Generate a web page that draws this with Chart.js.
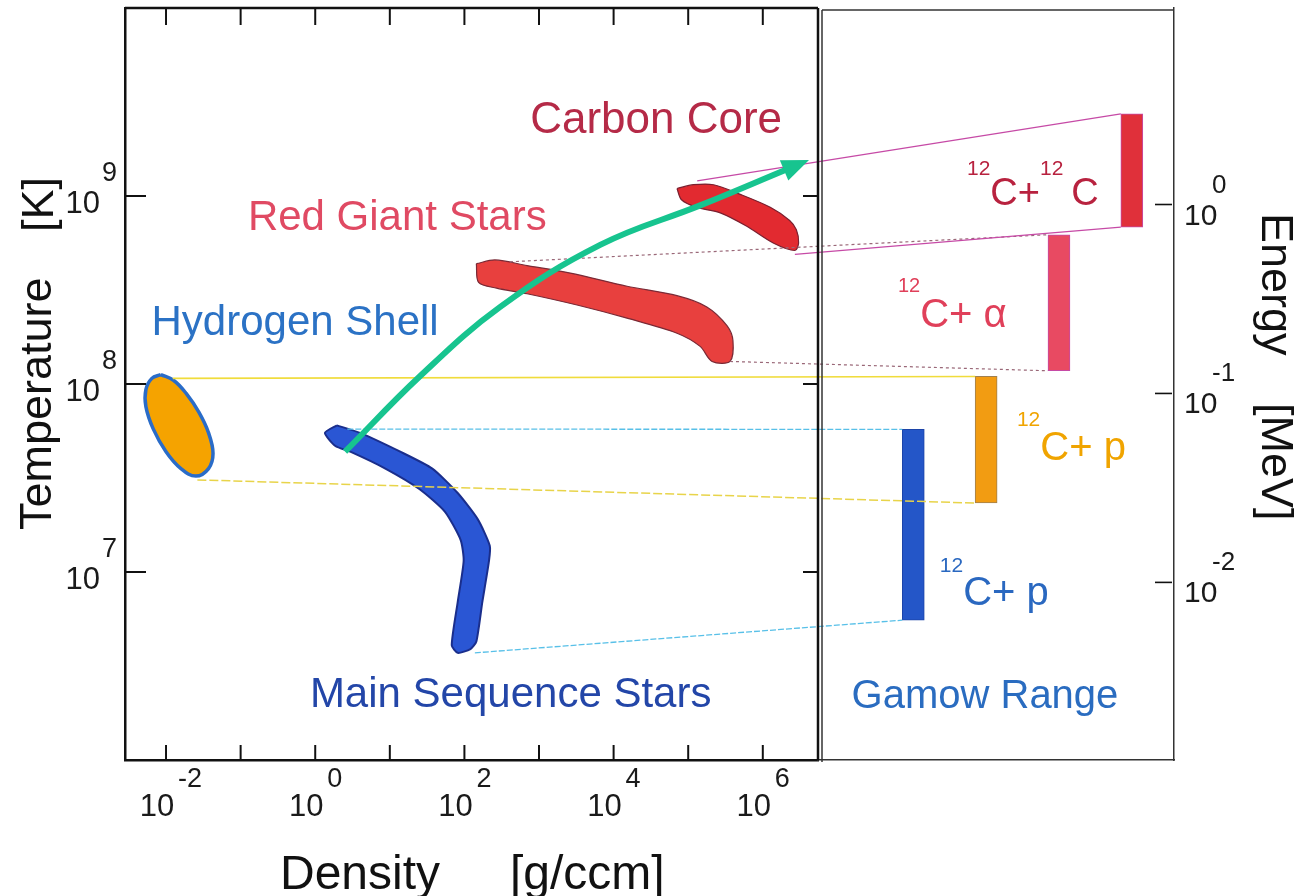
<!DOCTYPE html>
<html><head><meta charset="utf-8">
<script src="https://cdn.jsdelivr.net/npm/chart.js@4/dist/chart.umd.min.js"></script>
<style>html,body{margin:0;padding:0;background:#fff;}canvas{display:block;}</style>
</head><body>
<canvas id="c" width="1306" height="896"></canvas>
<script>
// ---------- tick labels (exponents of ten) ----------
const densityTickMarks = [-2, -1, 0, 1, 2, 3, 4, 5, 6];
const densityTickLabels = [-2, 0, 2, 4, 6];
const temperatureTickLabels = [7, 8, 9];
const energyTickLabels = [0, -1, -2];

// ---------- stellar regions: log10 density [g/ccm], log10 temperature [K] ----------
const mainSeqRho = [0.29, 0.60, 1.14, 1.57, 1.91, 2.18, 2.34, 2.33, 2.24, 2.16, 2.08, 1.91, 1.83, 1.91, 1.99, 1.95, 1.74, 1.40, 0.94, 0.47, 0.27, 0.13, 0.29];
const mainSeqT   = [7.78, 7.74, 7.64, 7.55, 7.42, 7.28, 7.14, 7.06, 6.84, 6.63, 6.59, 6.57, 6.61, 6.84, 7.06, 7.17, 7.32, 7.44, 7.55, 7.64, 7.67, 7.74, 7.78];

const hShellRho = [-2.07, -1.90, -1.73, -1.56, -1.43, -1.37, -1.43, -1.60, -1.80, -2.00, -2.17, -2.27, -2.27, -2.19, -2.07];
const hShellT   = [8.05, 8.02, 7.95, 7.85, 7.74, 7.63, 7.55, 7.51, 7.55, 7.64, 7.76, 7.88, 7.97, 8.03, 8.05];

const redGiantRho = [2.16, 2.41, 2.84, 3.42, 4.18, 4.85, 5.25, 5.52, 5.60, 5.56, 5.32, 5.16, 4.85, 4.18, 3.51, 2.84, 2.43, 2.19, 2.16];
const redGiantT   = [8.64, 8.66, 8.63, 8.59, 8.52, 8.47, 8.41, 8.31, 8.23, 8.12, 8.12, 8.20, 8.27, 8.35, 8.42, 8.48, 8.51, 8.54, 8.64];

const carbonRho = [4.85, 5.07, 5.34, 5.69, 6.10, 6.36, 6.45, 6.48, 6.43, 6.14, 5.78, 5.43, 5.11, 4.91, 4.85];
const carbonT   = [9.04, 9.06, 9.06, 9.01, 8.94, 8.87, 8.82, 8.75, 8.71, 8.75, 8.84, 8.91, 8.94, 8.98, 9.04];

// evolution arrow
const arrowRho = [0.40, 1.40, 2.48, 3.82, 5.16, 6.31];
const arrowT   = [7.64, 8.04, 8.41, 8.74, 8.95, 9.14];

// ---------- Gamow ranges: log10 energy [MeV] ----------
const reactions = ['12C+p', '12C+p', '12C+α', '12C+12C'];
const gamowIndex = [0, 1, 2, 3];
const gamowLow  = [-2.20, -1.58, -0.88, -0.12];
const gamowHigh = [-1.19, -0.91, -0.16, 0.48];

// connectors: region edge (log rho, log T) -> Gamow bar end
const connRho = [-1.91, -1.58, 0.43, 2.14, 2.61, 5.56, 5.12, 6.43];
const connT   = [8.03, 7.49, 7.76, 6.57, 8.65, 8.12, 9.08, 8.69];
const connBar = [1, 1, 0, 0, 2, 2, 3, 3];
const connEnd = ['high', 'low', 'high', 'low', 'high', 'low', 'high', 'low'];

// ---------- styles ----------
const FONT = "'Liberation Sans', Arial, Helvetica, sans-serif";
const connStyle = [
  {c: '#f0dc3c', w: 1.6, d: []}, {c: '#e8d44a', w: 1.5, d: [9, 3]},
  {c: '#58c0e8', w: 1.3, d: [6, 2]}, {c: '#58c0e8', w: 1.3, d: [6, 2]},
  {c: '#9a6878', w: 1.2, d: [3, 3]}, {c: '#9a6878', w: 1.2, d: [3, 3]},
  {c: '#c64aa6', w: 1.3, d: []}, {c: '#c64aa6', w: 1.3, d: []}
];
const barColors = ['#2456c8', '#f29c12', '#e84a62', '#e0303a'];
const barBorders = ['#1c44a8', '#a08050', '#c64aa6', '#c64aa6'];

const pts = (xs, ys) => xs.map((x, i) => ({x: x, y: ys[i]}));

const regionLabels = [
  {text: 'Carbon Core', rho: 4.57, T: 9.335, color: '#b52a47', size: 44},
  {text: 'Red Giant Stars', rho: 1.10, T: 8.82, color: '#e04a63', size: 42},
  {text: 'Hydrogen Shell', rho: -0.27, T: 8.26, color: '#2b72c5', size: 42},
  {text: 'Main Sequence Stars', rho: 2.62, T: 6.28, color: '#2346a8', size: 42}
];
const reactionLabels = [
  {parts: [['12', 1], ['C+ p', 0]], g: 0.516, E: -2.12, color: '#2a68c0', size: 40, sup: 21, rise: 33},
  {parts: [['12', 1], ['C+ p', 0]], g: 1.574, E: -1.352, color: '#f0a400', size: 40, sup: 21, rise: 34},
  {parts: [['12', 1], ['C+ α', 0]], g: -0.06, E: -0.648, color: '#e0405a', size: 40, sup: 20, rise: 35},
  {parts: [['12', 1], ['C+', 0], ['12', 1, 8], ['C', 0]], g: 0.888, E: -0.003, color: '#b8223f', size: 38, sup: 21, rise: 30}
];

function line(ctx, x1, y1, x2, y2) { ctx.beginPath(); ctx.moveTo(x1, y1); ctx.lineTo(x2, y2); ctx.stroke(); }

const overlay = {
  id: 'overlay',
  afterDatasetDraw(chart, args) {
    if (args.index !== 1) return;
    const ctx = chart.ctx;
    const {xD, yT, yE} = chart.scales;
    const bars = chart.getDatasetMeta(1).data;
    ctx.save();
    connRho.forEach((r, i) => {
      const b = bars[connBar[i]];
      const x2 = b.x - b.width / 2;
      const e = connEnd[i] === 'high' ? gamowHigh[connBar[i]] : gamowLow[connBar[i]];
      const s = connStyle[i];
      ctx.strokeStyle = s.c; ctx.lineWidth = s.w; ctx.setLineDash(s.d);
      line(ctx, xD.getPixelForValue(r), yT.getPixelForValue(connT[i]), x2, yE.getPixelForValue(e));
    });
    ctx.restore();
  },
  afterDatasetsDraw(chart) {
    const ctx = chart.ctx;
    const p = chart.getDatasetMeta(0).data;
    const last = p[p.length - 1];
    let fx = last.cp1x, fy = last.cp1y;
    if (fx === undefined || Math.hypot(last.x - fx, last.y - fy) < 1) { fx = p[p.length - 2].x; fy = p[p.length - 2].y; }
    let dx = last.x - fx, dy = last.y - fy; const L = Math.hypot(dx, dy); dx /= L; dy /= L;
    const len = 25, hw = 11;
    ctx.save();
    ctx.fillStyle = '#17c48f';
    ctx.beginPath();
    ctx.moveTo(last.x + dx * len, last.y + dy * len);
    ctx.lineTo(last.x - dx * 2 - dy * hw, last.y - dy * 2 + dx * hw);
    ctx.lineTo(last.x - dx * 2 + dy * hw, last.y - dy * 2 - dx * hw);
    ctx.closePath(); ctx.fill();
    ctx.restore();
  },
  afterDraw(chart) {
    const ctx = chart.ctx;
    const ca = chart.chartArea;
    const {xD, xG, yT, yE} = chart.scales;
    ctx.save();
    // frames not drawn by the scale borders
    ctx.strokeStyle = '#111'; ctx.lineWidth = 2.5;
    line(ctx, xD.left, ca.top, xD.right, ca.top);
    line(ctx, xD.right, ca.top, xD.right, ca.bottom);
    ctx.strokeStyle = '#333'; ctx.lineWidth = 1.5;
    line(ctx, xG.left + 4, ca.top + 2, xG.right, ca.top + 2);
    line(ctx, xG.left + 4, ca.top + 2, xG.left + 4, ca.bottom + 2);
    // inward tick marks
    ctx.strokeStyle = '#111'; ctx.lineWidth = 2;
    densityTickMarks.forEach(v => {
      const x = xD.getPixelForValue(v);
      line(ctx, x, ca.bottom, x, ca.bottom - 15);
      line(ctx, x, ca.top, x, ca.top + 17);
    });
    temperatureTickLabels.forEach(v => {
      const y = yT.getPixelForValue(v);
      line(ctx, xD.left, y, xD.left + 21, y);
      line(ctx, xD.right, y, xD.right - 15, y);
    });
    ctx.lineWidth = 1.6;
    energyTickLabels.forEach(v => {
      const y = yE.getPixelForValue(v);
      line(ctx, ca.right - 2, y, ca.right - 19, y);
    });
    // tick labels
    ctx.fillStyle = '#1a1a1a'; ctx.textBaseline = 'alphabetic';
    densityTickLabels.forEach(v => {
      const x = xD.getPixelForValue(v);
      ctx.font = '31px ' + FONT; ctx.textAlign = 'center'; ctx.fillText('10', x - 9, 816);
      ctx.font = '27px ' + FONT; ctx.textAlign = 'left'; ctx.fillText(String(v), x + 12, 787);
    });
    temperatureTickLabels.forEach(v => {
      const y = yT.getPixelForValue(v);
      ctx.font = '31px ' + FONT; ctx.textAlign = 'right'; ctx.fillText('10', 100, y + 17);
      ctx.font = '27px ' + FONT; ctx.textAlign = 'left'; ctx.fillText(String(v), 102, y - 15);
    });
    energyTickLabels.forEach(v => {
      const y = yE.getPixelForValue(v);
      ctx.font = '30px ' + FONT; ctx.textAlign = 'left'; ctx.fillText('10', 1184, y + 20);
      ctx.font = '26px ' + FONT; ctx.fillText(String(v), 1212, y - 12);
    });
    // axis titles
    ctx.fillStyle = '#111'; ctx.textAlign = 'left';
    ctx.font = '48px ' + FONT;
    ctx.fillText('Density', 280, 889);
    ctx.fillText('[g/ccm]', 510, 889);
    ctx.font = '45px ' + FONT;
    ctx.save(); ctx.translate(51, 530); ctx.rotate(-Math.PI / 2); ctx.fillText('Temperature', 0, 0); ctx.restore();
    ctx.save(); ctx.translate(53, 232); ctx.rotate(-Math.PI / 2); ctx.fillText('[K]', 0, 0); ctx.restore();
    ctx.save(); ctx.translate(1262, 213); ctx.rotate(Math.PI / 2); ctx.fillText('Energy', 0, 0); ctx.restore();
    ctx.save(); ctx.translate(1262, 403); ctx.rotate(Math.PI / 2); ctx.fillText('[MeV]', 0, 0); ctx.restore();
    // region labels
    ctx.textAlign = 'center';
    regionLabels.forEach(l => {
      ctx.fillStyle = l.color; ctx.font = l.size + 'px ' + FONT;
      ctx.fillText(l.text, xD.getPixelForValue(l.rho), yT.getPixelForValue(l.T));
    });
    ctx.fillStyle = '#2a6cc0'; ctx.font = '40px ' + FONT;
    ctx.fillText('Gamow Range', xG.getPixelForValue(1.135), yE.getPixelForValue(-2.665));
    // reaction labels
    ctx.textAlign = 'left';
    reactionLabels.forEach(l => {
      let x = xG.getPixelForValue(l.g); const y = yE.getPixelForValue(l.E);
      ctx.fillStyle = l.color;
      l.parts.forEach(pt => {
        ctx.font = (pt[1] ? l.sup : l.size) + 'px ' + FONT;
        ctx.fillText(pt[0], x, pt[1] ? y - l.rise : y);
        x += ctx.measureText(pt[0]).width + (pt[2] || 0);
      });
    });
    ctx.restore();
  }
};

const axisBase = (extra) => Object.assign({
  display: true,
  ticks: {display: false},
  grid: {display: true, drawOnChartArea: false, drawTicks: false},
  title: {display: false}
}, extra);

new Chart(document.getElementById('c'), {
  type: 'line',
  data: {
    datasets: [
      {type: 'line', label: 'Evolution', data: pts(arrowRho, arrowT), xAxisID: 'xD', yAxisID: 'yT',
       borderColor: '#17c48f', borderWidth: 6, tension: 0.4, pointRadius: 0, fill: false, borderCapStyle: 'butt'},
      {type: 'bar', label: 'Gamow range', data: gamowIndex.map((g, i) => ({x: g, y: [gamowLow[i], gamowHigh[i]]})),
       xAxisID: 'xG', yAxisID: 'yE', backgroundColor: barColors, borderColor: barBorders, borderWidth: 1,
       barThickness: 22, borderSkipped: false},
      {type: 'line', label: 'Carbon Core', data: pts(carbonRho, carbonT), xAxisID: 'xD', yAxisID: 'yT',
       backgroundColor: '#e22a30', borderColor: '#7a2030', borderWidth: 1.2, fill: 'shape', tension: 0.3, pointRadius: 0},
      {type: 'line', label: 'Red Giant Stars', data: pts(redGiantRho, redGiantT), xAxisID: 'xD', yAxisID: 'yT',
       backgroundColor: '#e8403e', borderColor: '#7a2a36', borderWidth: 1.2, fill: 'shape', tension: 0.3, pointRadius: 0},
      {type: 'line', label: 'Hydrogen Shell', data: pts(hShellRho, hShellT), xAxisID: 'xD', yAxisID: 'yT',
       backgroundColor: '#f5a300', borderColor: '#2a6cc8', borderWidth: 3.5, fill: 'shape', tension: 0.4, pointRadius: 0},
      {type: 'line', label: 'Main Sequence Stars', data: pts(mainSeqRho, mainSeqT), xAxisID: 'xD', yAxisID: 'yT',
       backgroundColor: '#2a56d4', borderColor: '#1a2e8c', borderWidth: 2, fill: 'shape', tension: 0.2, pointRadius: 0}
    ]
  },
  options: {
    responsive: false, animation: false, devicePixelRatio: 1,
    layout: {padding: {left: 125, right: 132, top: 8, bottom: 136}},
    plugins: {legend: {display: false}, tooltip: {enabled: false}},
    events: [],
    scales: {
      xD: axisBase({type: 'linear', position: 'bottom', stack: 'panels', stackWeight: 693, weight: 0,
        min: -2.55, max: 6.74, border: {display: true, color: '#111', width: 2.5}}),
      xG: axisBase({type: 'linear', position: 'bottom', stack: 'panels', stackWeight: 356, weight: 0,
        min: -1.157, max: 3.73, offset: false, grid: {display: true, offset: false, drawOnChartArea: false, drawTicks: false},
        border: {display: true, color: '#333', width: 1.5}}),
      yT: axisBase({type: 'linear', position: 'left', min: 6, max: 10, border: {display: true, color: '#111', width: 2.5}}),
      yE: axisBase({type: 'linear', position: 'right', min: -2.94, max: 1.04, border: {display: true, color: '#333', width: 1.5}})
    }
  },
  plugins: [overlay]
});
</script>
</body></html>
